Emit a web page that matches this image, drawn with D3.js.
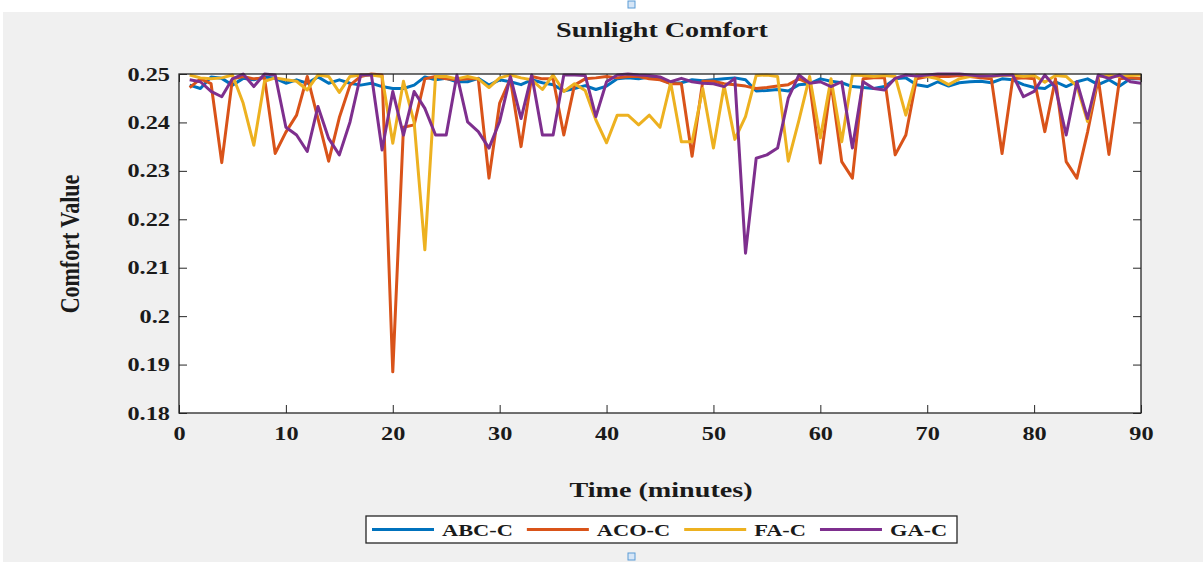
<!DOCTYPE html>
<html>
<head>
<meta charset="utf-8">
<script src="https://cdn.jsdelivr.net/npm/d3@7"></script>
<style>
  body { margin: 0; background: #fff; }
  text { font-family: "Liberation Serif", "Times New Roman", serif; font-weight: bold; fill: #1a1a1a; }
</style>
</head>
<body>
<div id="chart"></div>
<script>
// minutes 1..90
const minutes = d3.range(1, 91);

const abcC = [0.2477,0.2470,0.2494,0.2491,0.2477,0.2491,0.2488,0.2494,0.2491,0.2481,
  0.2488,0.2481,0.2494,0.2481,0.2488,0.2481,0.2477,0.2481,0.2474,0.2470,
  0.2470,0.2477,0.2494,0.2488,0.2491,0.2484,0.2484,0.2491,0.2477,0.2488,
  0.2484,0.2478,0.2488,0.2482,0.2478,0.2465,0.2470,0.2476,0.2468,0.2475,
  0.2490,0.2492,0.2490,0.2494,0.2490,0.2480,0.2482,0.2488,0.2486,0.2488,
  0.2490,0.2492,0.2488,0.2465,0.2466,0.2468,0.2465,0.2478,0.2480,0.2490,
  0.2485,0.2482,0.2474,0.2472,0.2470,0.2474,0.2490,0.2492,0.2478,0.2474,
  0.2484,0.2475,0.2482,0.2484,0.2485,0.2482,0.2490,0.2488,0.2478,0.2472,
  0.2470,0.2484,0.2474,0.2484,0.2490,0.2478,0.2488,0.2475,0.2490,0.2490];

const acoC = [0.2472,0.2490,0.2480,0.2317,0.2490,0.2495,0.2490,0.2492,0.2336,0.2380,
  0.2415,0.2495,0.2408,0.2320,0.2410,0.2477,0.2495,0.2500,0.2498,0.1885,
  0.2390,0.2395,0.2490,0.2495,0.2490,0.2488,0.2490,0.2490,0.2285,0.2440,
  0.2490,0.2350,0.2495,0.2490,0.2490,0.2374,0.2477,0.2490,0.2492,0.2495,
  0.2492,0.2495,0.2495,0.2490,0.2488,0.2480,0.2480,0.2330,0.2485,0.2485,
  0.2480,0.2478,0.2475,0.2470,0.2472,0.2475,0.2478,0.2490,0.2480,0.2316,
  0.2482,0.2319,0.2285,0.2490,0.2492,0.2492,0.2333,0.2374,0.2490,0.2495,
  0.2495,0.2495,0.2497,0.2495,0.2492,0.2490,0.2336,0.2490,0.2492,0.2490,
  0.2381,0.2490,0.2319,0.2285,0.2380,0.2490,0.2334,0.2490,0.2492,0.2490];

const faC = [0.2498,0.2492,0.2490,0.2492,0.2498,0.2440,0.2353,0.2485,0.2492,0.2488,
  0.2485,0.2467,0.2498,0.2495,0.2462,0.2495,0.2498,0.2498,0.2495,0.2357,
  0.2485,0.2400,0.2137,0.2495,0.2495,0.2490,0.2495,0.2490,0.2472,0.2492,
  0.2498,0.2492,0.2488,0.2468,0.2498,0.2464,0.2480,0.2466,0.2405,0.2358,
  0.2415,0.2415,0.2395,0.2415,0.2390,0.2482,0.2360,0.2360,0.2470,0.2347,
  0.2476,0.2365,0.2412,0.2497,0.2498,0.2495,0.2320,0.2405,0.2495,0.2368,
  0.2490,0.2360,0.2498,0.2497,0.2495,0.2497,0.2495,0.2415,0.2498,0.2495,
  0.2490,0.2478,0.2490,0.2495,0.2497,0.2495,0.2497,0.2498,0.2495,0.2497,
  0.2483,0.2497,0.2495,0.2475,0.2402,0.2495,0.2497,0.2495,0.2497,0.2498];

const gaC = [0.2488,0.2484,0.2464,0.2453,0.2490,0.2500,0.2474,0.2500,0.2498,0.2390,
  0.2374,0.2340,0.2433,0.2367,0.2333,0.2401,0.2498,0.2498,0.2343,0.2464,
  0.2374,0.2464,0.2429,0.2374,0.2374,0.2498,0.2401,0.2381,0.2347,0.2402,
  0.2495,0.2408,0.2498,0.2374,0.2374,0.2498,0.2498,0.2497,0.2412,0.2484,
  0.2498,0.2500,0.2498,0.2497,0.2494,0.2484,0.2491,0.2484,0.2481,0.2480,
  0.2474,0.2491,0.2130,0.2326,0.2333,0.2347,0.2450,0.2498,0.2481,0.2484,
  0.2474,0.2484,0.2347,0.2484,0.2470,0.2467,0.2491,0.2498,0.2496,0.2498,
  0.2500,0.2500,0.2500,0.2498,0.2496,0.2496,0.2498,0.2498,0.2453,0.2464,
  0.2498,0.2472,0.2374,0.2484,0.2408,0.2498,0.2491,0.2498,0.2484,0.2481];

const seriesNames = ["ABC-C", "ACO-C", "FA-C", "GA-C"];
const seriesColors = ["#0072BD", "#D95319", "#EDB120", "#7E2F8E"];
const xTicks = [0, 10, 20, 30, 40, 50, 60, 70, 80, 90];
const yTicks = [0.18, 0.19, 0.2, 0.21, 0.22, 0.23, 0.24, 0.25];

const W = 1203, H = 562;
const SX = 1.28; // the picture is stretched sideways

const svg = d3.select("#chart").append("svg")
    .attr("width", W)
    .attr("height", H);

// figure background
svg.append("rect").attr("x", 3).attr("y", 12).attr("width", W - 3).attr("height", H - 12).attr("fill", "#f0f0f0");

const pLeft = 179, pRight = 1141, pTop = 74, pBottom = 413;

const x = d3.scaleLinear().domain([0, 90]).range([pLeft, pRight]);
const y = d3.scaleLinear().domain([0.18, 0.25]).range([pBottom, pTop]);

svg.append("rect")
    .attr("x", pLeft).attr("y", pTop)
    .attr("width", pRight - pLeft).attr("height", pBottom - pTop)
    .attr("fill", "#fff");

function stretchText(g) {
    g.selectAll("text").each(function () {
        const t = d3.select(this);
        const tx = +t.attr("x") || 0, ty = +t.attr("y") || 0;
        t.attr("x", 0).attr("y", 0)
            .attr("transform", `translate(${tx},${ty}) scale(${SX},1)`);
    });
}

const fmtY = d => String(+d.toFixed(2));

// axes, ticks pointing inward like matlab
const gBottom = svg.append("g").attr("transform", `translate(0,${pBottom})`)
    .call(d3.axisBottom(x).tickValues(xTicks).tickSizeInner(-8).tickSizeOuter(0).tickPadding(14));
const gTop = svg.append("g").attr("transform", `translate(0,${pTop})`)
    .call(d3.axisTop(x).tickValues(xTicks).tickSizeInner(-8).tickSizeOuter(0).tickFormat(""));
const gLeft = svg.append("g").attr("transform", `translate(${pLeft},0)`)
    .call(d3.axisLeft(y).tickValues(yTicks).tickSizeInner(-8).tickSizeOuter(0).tickPadding(9).tickFormat(fmtY));
const gRight = svg.append("g").attr("transform", `translate(${pRight},0)`)
    .call(d3.axisRight(y).tickValues(yTicks).tickSizeInner(-8).tickSizeOuter(0).tickFormat(""));

[gBottom, gTop, gLeft, gRight].forEach(g => {
    g.select(".domain").remove();
    g.selectAll("line").attr("stroke", "#262626");
    g.selectAll("text").style("font-size", "19px").attr("fill", "#1a1a1a");
});
stretchText(gBottom);
stretchText(gLeft);

// lines
const line = d3.line().x((d, i) => x(minutes[i])).y(d => y(d));
const allSeries = [abcC, acoC, faC, gaC];
svg.append("g").selectAll("path")
    .data(allSeries)
    .enter().append("path")
    .attr("d", d => line(d))
    .attr("fill", "none")
    .attr("stroke", (d, i) => seriesColors[i])
    .attr("stroke-width", 3)
    .attr("stroke-linejoin", "round");

// box
svg.append("rect")
    .attr("x", pLeft).attr("y", pTop)
    .attr("width", pRight - pLeft).attr("height", pBottom - pTop)
    .attr("fill", "none").attr("stroke", "#262626").attr("stroke-width", 1.3);

// title and axis labels
svg.append("text")
    .attr("transform", `translate(662,37) scale(${SX},1)`)
    .attr("text-anchor", "middle").style("font-size", "22px")
    .text("Sunlight Comfort");

svg.append("text")
    .attr("transform", `translate(661,497) scale(${SX},1)`)
    .attr("text-anchor", "middle").style("font-size", "22px")
    .text("Time (minutes)");

svg.append("text")
    .attr("transform", `translate(79,244) scale(${SX},1) rotate(-90)`)
    .attr("text-anchor", "middle").style("font-size", "22px")
    .text("Comfort Value");

// legend
const legend = svg.append("g");
legend.append("rect")
    .attr("x", 366).attr("y", 516).attr("width", 591).attr("height", 27)
    .attr("fill", "#fff").attr("stroke", "#262626").attr("stroke-width", 1.3);

let lx = 372;
seriesNames.forEach((name, i) => {
    legend.append("line")
        .attr("x1", lx).attr("x2", lx + 62)
        .attr("y1", 529.5).attr("y2", 529.5)
        .attr("stroke", seriesColors[i]).attr("stroke-width", 3);
    const t = legend.append("text")
        .attr("transform", `translate(${lx + 70},536) scale(${SX},1)`)
        .style("font-size", "17.5px")
        .text(name);
    lx += 70 + t.node().getComputedTextLength() * SX + 14;
});

// small selection handles
[[628, 1], [628, 553]].forEach(p => {
    svg.append("rect").attr("x", p[0]).attr("y", p[1]).attr("width", 7).attr("height", 7)
        .attr("fill", "#d6e6f7").attr("stroke", "#5b9bd5").attr("stroke-width", 1);
});
</script>
</body>
</html>
